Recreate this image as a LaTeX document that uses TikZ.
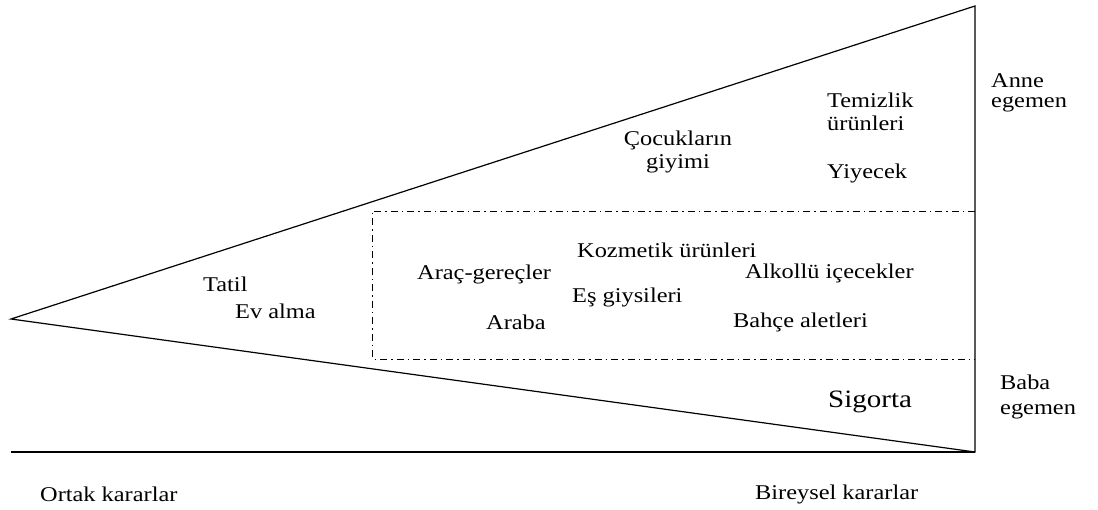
\documentclass[tikz,border=0pt]{standalone}
\usepackage{fontspec}
\setmainfont{Liberation Serif}[FakeStretch=1.16]
\begin{document}
\begin{tikzpicture}[x=1pt,y=-1pt,
  edge/.style={line width=1.2pt,black},
  dashdot/.style={line width=0.9pt,dash pattern=on 7pt off 4pt on 1.5pt off 4pt},
  lbl/.style={inner sep=0pt,anchor=west,font=\fontsize{21}{23}\selectfont},
  lblc/.style={inner sep=0pt,font=\fontsize{21}{23}\selectfont,align=center}]
\useasboundingbox (0,0) rectangle (1098,510);
\coordinate (apex) at (11,319);
\coordinate (tr) at (975,6);
\coordinate (br) at (975,452);
\coordinate (bl) at (11,452);
\coordinate (r1) at (372,211);
\coordinate (r2) at (372,359);
\coordinate (r3) at (975,359);
\coordinate (r0) at (975,211);
\draw[edge,line join=miter] (apex) -- (tr) -- (br) -- cycle;
\draw[edge] (bl) -- (br);
\draw[dashdot] (r0) -- (r1) -- (r2) -- (r3);
% right labels
\node[lbl,align=left,font=\fontsize{21}{20}\selectfont] (anne) at (991,93) {Anne\\egemen};
\node[lbl,align=left,font=\fontsize{21}{25}\selectfont] (baba) at (1000,397) {Baba\\egemen};
% upper region
\node[lbl,align=left] (temiz) at (827,112) {Temizlik\\ürünleri};
\node[lbl] (yiy) at (827,173) {Yiyecek};
\node[lblc] (cocuk) at (678,152) {Çocukların\\giyimi};
% rectangle contents
\node[lbl] (kozm) at (577,250) {Kozmetik ürünleri};
\node[lbl] (arac) at (417,274) {Araç-gereçler};
\node[lbl] (alk) at (745,273) {Alkollü içecekler};
\node[lbl] (es) at (572,297) {Eş giysileri};
\node[lbl] (araba) at (486,322) {Araba};
\node[lbl] (bahce) at (733,322) {Bahçe aletleri};
% left
\node[lbl] (tatil) at (203,284) {Tatil};
\node[lbl] (ev) at (235,311) {Ev alma};
% bottom
\node[lbl,font=\fontsize{25}{27}\selectfont] (sig) at (828,402) {Sigorta};
\node[lbl] (ortak) at (40,494) {Ortak kararlar};
\node[lbl] (bir) at (755,494) {Bireysel kararlar};
\end{tikzpicture}
\end{document}
